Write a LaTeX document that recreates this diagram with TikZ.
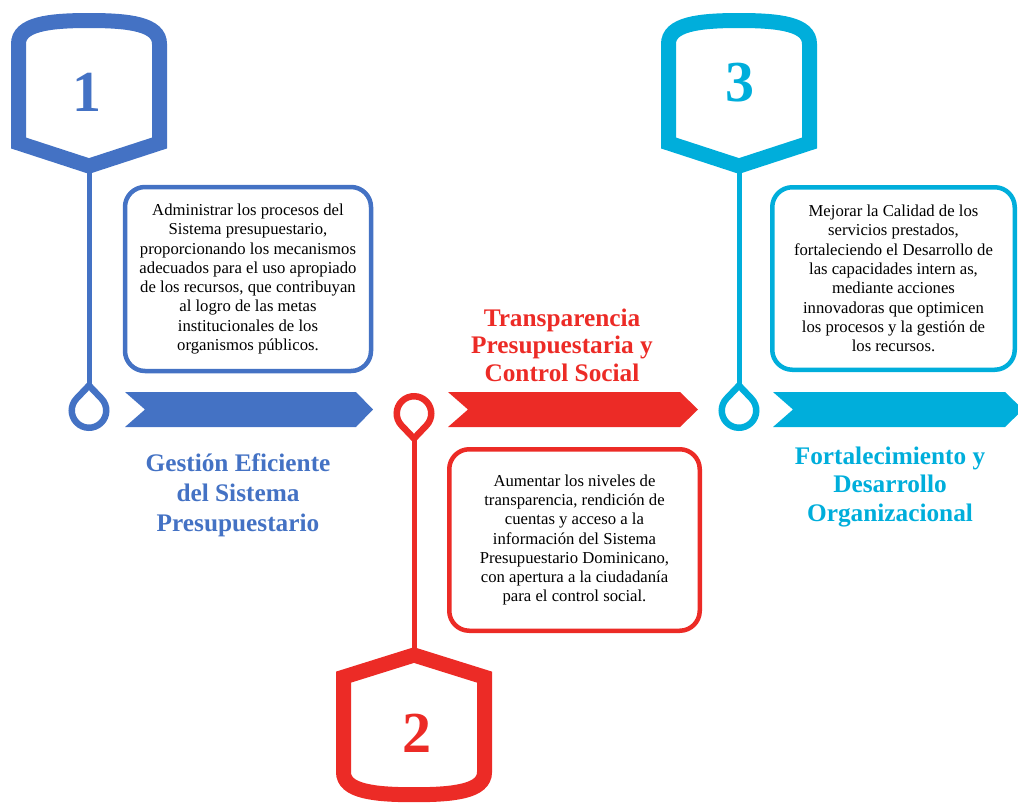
\documentclass[tikz,border=0pt]{standalone}
\usepackage{fontspec}
\setmainfont{Liberation Serif}
\definecolor{cblue}{HTML}{4472C4}
\definecolor{cred}{HTML}{EC2B26}
\definecolor{ccyan}{HTML}{00AEDB}
\begin{document}
\begin{tikzpicture}[x=1pt,y=-1pt,
  hexline/.style={line width=15pt, line join=miter, fill=white},
  stemline/.style={line width=5pt},
  ring/.style={line width=6.5pt, line join=miter, fill=white},
  textbox/.style={draw, line width=4.5pt, rounded corners=20pt, fill=white,
     inner sep=0pt, align=center, text=black,
     font=\fontsize{16.7}{19.3}\selectfont},
  titletext/.style={font=\bfseries\fontsize{25.3}{28.5}\selectfont, align=center},
  numtext/.style={font=\bfseries\fontsize{58}{58}\selectfont, inner sep=0pt},
  chevron/.style={draw=none}
]
\useasboundingbox (0,0) rectangle (1018,804);

% ---- stems ----
\coordinate (h1tip) at (89,166);
\coordinate (p1top) at (89,385.5);
\coordinate (h3tip) at (739,166);
\coordinate (p3top) at (739,385.5);
\coordinate (p2bot) at (414,438.5);
\coordinate (h2tip) at (414,655);
\draw[stemline, draw=cblue] (h1tip) -- (p1top);
\draw[stemline, draw=ccyan] (h3tip) -- (p3top);
\draw[stemline, draw=cred] (p2bot) -- (h2tip);

% ---- hexagons ----
\begin{scope}[shift={(89,0)}]
\draw[hexline, draw=cblue] (-70.5,143) -- (-70.5,44) .. controls (-70.5,24) and (-40,20.5) .. (0,20.5) .. controls (40,20.5) and (70.5,24) .. (70.5,44) -- (70.5,143) -- (0,166) -- cycle;
\end{scope}
\begin{scope}[shift={(739,0)}]
\draw[hexline, draw=ccyan] (-70.5,143) -- (-70.5,44) .. controls (-70.5,24) and (-40,20.5) .. (0,20.5) .. controls (40,20.5) and (70.5,24) .. (70.5,44) -- (70.5,143) -- (0,166) -- cycle;
\end{scope}
\begin{scope}[shift={(414,814.4)}, yscale=-0.96]
\draw[hexline, draw=cred] (-70.5,143) -- (-70.5,44) .. controls (-70.5,24) and (-40,20.5) .. (0,20.5) .. controls (40,20.5) and (70.5,24) .. (70.5,44) -- (70.5,143) -- (0,166) -- cycle;
\end{scope}
\node[numtext, text=cblue] (n1) at (87,92) {1};
\node[numtext, text=ccyan] (n3) at (740,83) {3};
\node[numtext, text=cred] (n2) at (417,733) {2};

% ---- pins ----
\draw[ring, draw=cblue] (p1top) -- ([shift={(89,410.5)}]-43.6:17.25) arc[start angle=-43.6, end angle=223.6, radius=17.25] -- cycle;
\draw[ring, draw=ccyan] (p3top) -- ([shift={(739,410.5)}]-43.6:17.25) arc[start angle=-43.6, end angle=223.6, radius=17.25] -- cycle;
\draw[ring, draw=cred] (p2bot) -- ([shift={(414,413.5)}]136.4:17.25) arc[start angle=136.4, end angle=403.6, radius=17.25] -- cycle;

% ---- chevrons ----
\fill[chevron, fill=cblue] (125,392) -- (356,392) -- (373,409.5) -- (356,427) -- (125,427) -- (145,409.5) -- cycle;
\fill[chevron, fill=cred] (448,392) -- (680,392) -- (698,409.5) -- (680,427) -- (448,427) -- (468,409.5) -- cycle;
\fill[chevron, fill=ccyan] (773,392) -- (1005,392) -- (1023,409.5) -- (1005,427) -- (773,427) -- (793,409.5) -- cycle;

% ---- text boxes ----
\node[textbox, draw=cblue, minimum width=246pt, minimum height=184pt] (b1) at (248,279)
 {Administrar los procesos del\\Sistema presupuestario,\\proporcionando los mecanismos\\adecuados para el uso apropiado\\de los recursos, que contribuyan\\al logro de las metas\\institucionales de los\\organismos públicos.};
\node[textbox, draw=cred, minimum width=250.5pt, minimum height=181.5pt] (b2) at (574.5,540)
 {Aumentar los niveles de\\transparencia, rendición de\\cuentas y acceso a la\\información del Sistema\\Presupuestario Dominicano,\\con apertura a la ciudadanía\\para el control social.};
\node[textbox, draw=ccyan, minimum width=242.5pt, minimum height=182.5pt] (b3) at (893.5,278.5)
 {Mejorar la Calidad de los\\servicios prestados,\\fortaleciendo el Desarrollo de\\las capacidades intern as,\\mediante acciones\\innovadoras que optimicen\\los procesos y la gestión de\\los recursos.};

% ---- titles ----
\node[titletext, text=cblue, font=\bfseries\fontsize{25.3}{30}\selectfont] (t1) at (238,495) {Gestión Eficiente\\del Sistema\\Presupuestario};
\node[titletext, text=cred, font=\bfseries\fontsize{25.3}{27.5}\selectfont] (t2) at (562,345) {Transparencia\\Presupuestaria y\\Control Social};
\node[titletext, text=ccyan] (t3) at (890,487) {Fortalecimiento y\\Desarrollo\\Organizacional};
\end{tikzpicture}
\end{document}
